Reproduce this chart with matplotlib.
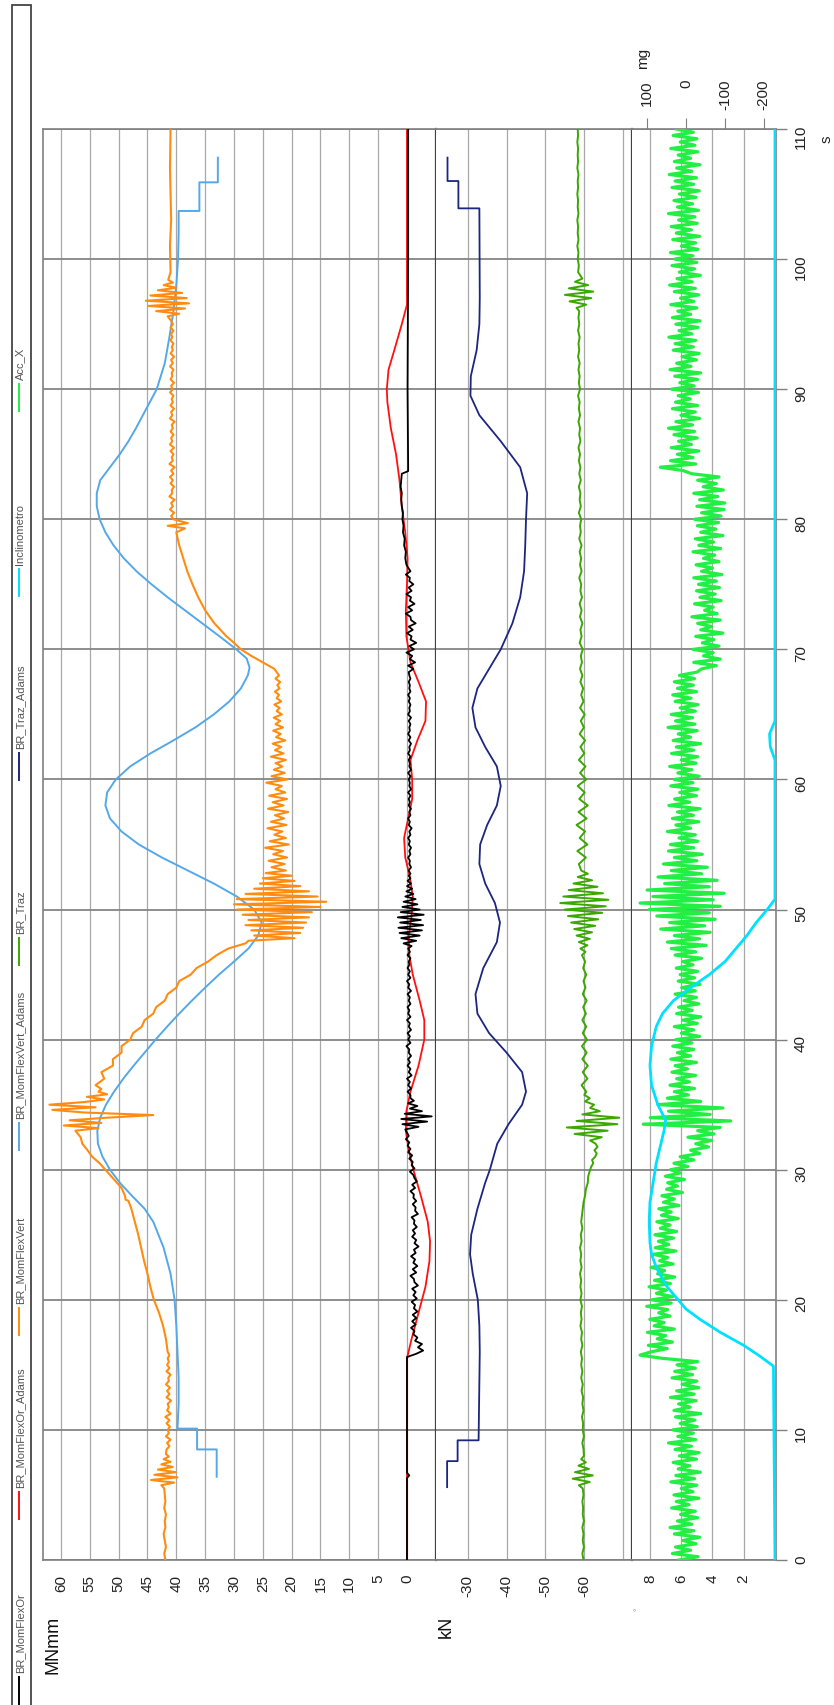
import numpy as np
import matplotlib
matplotlib.use("Agg")
import matplotlib.pyplot as plt
from matplotlib.lines import Line2D
from matplotlib.patches import Rectangle
from matplotlib.transforms import blended_transform_factory

plt.rcParams['font.family'] = ['Liberation Sans', 'DejaVu Sans']


def regular(t0, dt, vals):
    """Samples taken every dt seconds starting at t0."""
    return [t0 + dt * i for i in range(len(vals))], list(vals)


def pairs(ts, vs):
    return list(ts), list(vs)


def join(*pieces):
    t, v = [], []
    for pt, pv in pieces:
        t += pt
        v += pv
    return np.array(t), np.array(v)


# ---------------------------------------------------------------- data
time_ticks = list(range(0, 111, 10))

mom_ticks = list(range(0, 61, 5))
kn_ticks = [-30, -40, -50, -60, -70]
kn_labels = ['-30', '-40', '-50', '-60', '']
deg_ticks = [2, 4, 6, 8]
mg_ticks = [100, 0, -100, -200]

# BR_MomFlexVert (MNmm)
vert_t, vert_v = join(
    regular(0.0, 0.5, [41.9, 42.1, 41.8, 42.0, 42.2, 41.9, 42.0, 41.8, 42.1, 41.9, 42.0, 42.1]),
    regular(5.75, 0.2, [42.6, 40.4, 44.4, 39.8, 43.8, 40.1, 43.2, 40.6, 42.6, 41.0, 42.2, 41.3, 41.8]),
    regular(8.5, 0.25, [41.7, 41.2, 41.6, 41.0, 41.8, 41.3, 41.5, 41.1, 41.7, 41.2, 41.9, 41.0, 41.6,
                        41.3, 41.5, 40.9, 41.7, 41.2, 41.6, 41.1, 41.8, 41.3, 41.4, 41.0, 41.7, 41.2,
                        41.6, 41.3, 41.5, 41.2]),
    pairs([16, 17, 18, 19, 20, 21, 22, 23, 24, 25, 26, 27, 27.6, 27.7, 28, 28.6, 29, 29.5, 30, 30.5,
           31, 31.5, 32, 32.5, 33],
          [41.5, 41.8, 42.3, 43.0, 43.9, 44.5, 45.0, 45.6, 46.1, 46.6, 47.2, 47.8, 48.3, 48.8, 48.9,
           49.5, 50.3, 51.3, 52.3, 53.3, 54.6, 55.4, 56.3, 56.6, 57.5]),
    regular(33.2, 0.2, [53.5, 59.5, 53.0, 58.5, 52.0, 44.0, 56.0, 61.5, 54.0, 62.0, 56.0, 52.5,
                        55.5, 52.0, 53.5, 53.0]),
    pairs([36.5, 37, 37.5, 38, 38.5, 39, 39.5, 40, 40.5, 41, 41.5, 42, 42.5, 43, 43.5, 44, 44.5, 45,
           45.5, 46, 46.5, 47, 47.4],
          [54.0, 52.5, 53.0, 51.0, 51.0, 49.5, 49.5, 48.0, 47.5, 46.0, 45.5, 44.0, 43.5, 42.0, 41.5,
           40.0, 39.5, 37.5, 36.5, 34.5, 33.0, 31.0, 28.0]),
    regular(47.6, 0.2, [27.5, 19.5, 26.5, 18.5, 27.0, 18.0, 28.0, 17.5, 27.5, 17.0, 28.5, 16.5, 29.5,
                        15.0, 30.0, 14.0, 29.5, 15.5, 28.0, 17.0, 26.5, 18.5, 25.5, 19.5, 25.0, 20.0,
                        24.5, 21.0]),
    regular(53.25, 0.25, [23.5, 21.2, 24.0, 20.8, 23.2, 21.5, 24.6, 20.5, 23.8, 21.0, 23.0, 21.6, 24.2,
                          20.9, 23.6, 21.3, 22.9, 20.6, 24.1, 21.4, 23.3, 20.8, 23.9, 21.1, 22.8, 21.7,
                          24.4, 20.7, 23.5, 21.2, 23.1, 21.6, 22.8, 21.0, 23.6, 21.4, 22.9, 21.8, 23.3,
                          21.1, 22.7, 21.9, 23.2, 21.5, 22.8, 22.0, 23.1, 21.7, 22.6, 22.1, 23.0, 21.8,
                          22.6, 22.2, 22.9, 22.1, 22.5, 22.0, 22.8, 22.2, 22.6]),
    pairs([68.5, 69, 69.5, 70, 70.5, 71, 72, 73, 74, 75, 76, 77, 78, 79, 79.3, 79.5, 79.7, 80],
          [23.0, 25.0, 27.0, 28.8, 30.0, 31.3, 33.4, 35.0, 36.2, 37.2, 38.1, 38.8, 39.5, 40.0, 38.5,
           41.5, 38.0, 40.5]),
    regular(80.25, 0.25, [40.9, 40.4, 41.1, 40.6, 40.9, 40.3, 41.2, 40.7, 40.8, 40.4, 41.0, 40.6, 41.1,
                          40.5, 40.9, 40.3, 41.2, 40.6, 40.8, 40.5, 41.0, 40.4, 41.1, 40.7, 40.9, 40.5,
                          41.0, 40.6, 40.8, 40.3, 41.1, 40.7, 40.9, 40.4, 41.0, 40.6, 40.8, 40.5, 41.1,
                          40.6, 40.9, 40.4, 41.0, 40.7, 40.8, 40.5, 41.1, 40.6, 40.9, 40.4, 41.0, 40.6,
                          40.8, 40.5, 41.0, 40.7, 40.9, 40.5, 41.0, 40.6, 40.9]),
    regular(95.6, 0.2, [41.5, 39.5, 43.5, 38.5, 44.8, 37.8, 45.3, 38.2, 44.5, 39.0, 43.2, 40.0, 42.2,
                        40.6, 41.4]),
    pairs([99, 101, 103, 105, 107, 110], [41.0, 41.1, 40.9, 41.0, 41.1, 41.0]),
)

# BR_MomFlexVert_Adams (MNmm)
vert_adams_t = [6.4, 8.5, 8.5, 10.1, 10.1, 12, 14, 16, 18, 20, 22, 24, 26, 27, 28, 29, 30, 31, 32,
                33, 34, 35, 36, 37, 38, 39, 40, 41, 42, 43, 44, 45, 46, 47, 48, 49, 50, 51, 52, 53,
                54, 55, 56, 57, 58, 59, 60, 61, 62, 63, 64, 65, 66, 67, 68, 68.6, 69.3, 70, 71, 72,
                73, 74, 75, 76, 77, 78, 79, 80, 81, 82, 83, 84, 85, 86, 87, 88, 89, 90, 92, 94, 96,
                98, 100, 102, 103.7, 103.7, 105.9, 105.9, 107.8]
vert_adams_v = [33.0, 33.0, 36.4, 36.4, 39.8, 39.6, 39.6, 39.8, 40.0, 40.3, 41.0, 42.2, 44.0, 45.5,
                47.7, 49.8, 51.5, 52.8, 53.6, 53.7, 53.2, 52.2, 50.8, 49.2, 47.4, 45.5, 43.6, 41.6,
                39.5, 37.3, 35.0, 32.6, 30.0, 27.5, 25.8, 25.2, 26.5, 29.5, 33.5, 38.0, 42.5, 46.5,
                49.5, 51.5, 52.3, 52.0, 50.5, 48.0, 44.5, 40.5, 36.7, 33.5, 30.8, 28.8, 27.6, 27.3,
                27.8, 29.6, 32.5, 35.5, 38.5, 41.5, 44.3, 46.9, 49.1, 50.9, 52.3, 53.3, 53.8, 53.8,
                53.2, 51.5, 49.8, 48.3, 47.0, 45.8, 44.6, 43.4, 42.0, 41.2, 40.5, 40.0, 39.7, 39.6,
                39.6, 36.0, 36.0, 32.8, 32.8]

# BR_MomFlexOr (MNmm)
or_t, or_v = join(
    pairs([0, 6.3, 6.5, 6.7, 15.5], [0.0, 0.0, -0.4, 0.0, 0.0]),
    regular(15.6, 0.25, [0.0, -1.6, -2.8, -1.9, -2.6, -1.4, -1.8, -1.1, -1.3, -0.7, -1.5, -0.9, -1.6,
                         -1.0, -1.8, -1.2, -1.4, -0.8, -1.7, -1.1, -1.5, -0.9, -1.9, -1.3, -1.2, -0.6,
                         -1.6, -1.0, -1.8, -1.1, -1.4, -0.7, -1.5, -1.2, -2.0, -1.3, -1.6, -0.9, -1.4,
                         -1.0, -1.7, -1.2, -1.3, -0.8, -1.9, -1.4, -1.5, -1.0, -1.6, -1.1, -1.2, -0.6,
                         -1.4, -0.9, -1.7, -1.3, -1.1, -0.5, -1.3, -0.8, -1.0, -0.4, -0.9, -0.2, -0.6,
                         -0.1, -0.4, 0.2, -0.3]),
    regular(33.1, 0.2, [0.3, -2.0, 0.8, -3.5, 1.0, -4.3, 0.4, -2.6, -0.5, -1.8, -0.2, -1.2, -0.6]),
    regular(35.75, 0.25, [-0.6, -0.1, -0.7, -0.2, -0.5, 0.0, -0.8, -0.3, -0.6, -0.1, -0.5, -0.2, -0.7,
                          -0.3, -0.4, 0.1, -0.6, -0.2, -0.5, -0.1, -0.7, -0.3, -0.5, 0.0, -0.6, -0.2,
                          -0.4, -0.1, -0.6, -0.3, -0.5, -0.1, -0.7, -0.2, -0.4, 0.0, -0.6, -0.2, -0.5,
                          -0.1, -0.4, -0.3, -0.6, -0.1, -0.5, -0.2]),
    regular(47.2, 0.2, [-0.8, 0.6, -1.6, 1.0, -2.2, 1.3, -2.6, 1.5, -2.8, 1.2, -2.4, 1.6, -2.9, 1.1,
                        -2.2, 0.8, -1.8, 0.6, -1.5, 0.3, -1.1, 0.1, -0.9, 0.0, -0.7, -0.1, -0.6, -0.3]),
    regular(52.75, 0.25, [-0.6, -0.3, -0.7, -0.4, -0.5, -0.2, -0.6, -0.4, -0.7, -0.3, -0.5, -0.2, -0.6,
                          -0.4, -0.8, -0.3, -0.5, -0.2, -0.6, -0.4, -0.7, -0.3, -0.5, -0.3, -0.6, -0.2,
                          -0.7, -0.4, -0.5, -0.3, -0.6, -0.2, -0.7, -0.4, -0.5, -0.3, -0.6, -0.2, -0.5,
                          -0.4, -0.7, -0.3, -0.6, -0.2, -0.5, -0.4, -0.6, -0.3, -0.7, -0.2, -0.5, -0.4,
                          -0.6, -0.3, -0.5, -0.2, -0.6, -0.4, -0.5, -0.3, -0.6, -0.4]),
    regular(68.25, 0.25, [-0.3, -1.1, -0.2, -1.4, -0.5, -0.9, 0.1, -1.2, -0.4, -1.6, -0.6, -0.8, 0.0,
                          -1.0, -0.3, -1.5, -0.7, -0.6, 0.2, -0.9, -0.2, -1.3, -0.5, -0.7, 0.1, -0.8,
                          -0.3, -1.1, -0.4, -0.5, 0.2, -0.6]),
    regular(76.5, 0.5, [0.1, 0.3, 0.2, 0.5, 0.4, 0.7, 0.6, 0.8, 0.7, 0.9, 1.0, 0.9, 1.1, 1.0, 0.9]),
    pairs([83.7, 84.2, 90, 100, 110], [-0.2, -0.2, -0.1, -0.2, -0.2]),
)

# BR_MomFlexOr_Adams (MNmm)
or_adams_t = [0, 15.5, 17, 19, 21, 23, 24.5, 26, 28, 30, 31.5, 33, 34.5, 36, 38, 40, 41.5, 43, 45,
              46.5, 48, 49.5, 51, 52.5, 54, 55.5, 57, 58.5, 60, 61.5, 63, 64.5, 66, 67.5, 69, 71,
              73, 75, 77, 79, 81, 83, 85, 87, 89, 90, 91.5, 93, 95, 96.5, 110]
or_adams_v = [0.0, 0.0, -0.8, -2.0, -3.2, -3.9, -4.0, -3.6, -2.4, -1.1, -0.3, 0.2, 0.1, -0.6,
              -2.0, -3.0, -3.0, -2.2, -1.0, -0.4, -0.3, -0.8, -1.0, -0.5, 0.3, 0.5, -0.2, -0.9,
              -0.9, -0.6, -1.8, -3.2, -3.3, -2.0, -0.6, 0.1, 0.2, 0.0, -0.1, 0.3, 0.9, 1.3, 1.9,
              2.8, 3.4, 3.5, 3.2, 2.2, 0.9, 0.0, 0.0]

# BR_Traz (kN)
traz_t, traz_v = join(
    regular(0.0, 0.5, [-59.8, -59.5, -59.9, -59.6, -59.8, -59.5, -59.9, -59.6, -59.7, -59.5, -59.8,
                       -59.6]),
    regular(5.75, 0.25, [-58.6, -61.4, -57.0, -62.2, -57.6, -61.2, -58.5, -60.4, -59.2, -59.9]),
    regular(8.5, 0.5, [-59.8, -59.5, -59.9, -59.6, -59.7, -59.4, -59.8, -59.5, -59.7, -59.3, -59.6,
                       -59.2, -59.5, -59.2, -59.4, -59.1, -59.5, -59.2, -59.4, -59.0, -59.3, -59.1,
                       -59.4, -59.0, -59.3, -59.0, -59.2, -58.9, -59.3, -59.0, -59.2, -58.9, -59.3,
                       -59.1, -59.5, -59.2, -59.4, -59.6, -59.8, -60.2, -60.4, -60.9, -61.0, -61.5]),
    regular(30.25, 0.25, [-61.8, -62.3, -62.0, -62.8, -63.2, -62.6, -63.4, -62.9, -61.5, -64.5, -57.5,
                          -66.0, -55.5, -68.5, -58.0, -69.0, -59.5, -64.0, -61.5, -62.5, -60.2, -61.4,
                          -60.0]),
    regular(36.0, 0.5, [-60.5, -59.3, -60.8, -59.6, -60.9, -59.5, -60.6, -59.4, -60.7, -59.6, -60.5,
                        -59.5, -60.4, -59.7, -60.6, -59.6, -60.3, -59.8, -60.5, -59.7, -60.2]),
    regular(46.25, 0.25, [-59.8, -59.4, -60.3, -59.0, -60.8, -58.6, -61.4, -58.0, -62.0, -57.4, -62.8,
                          -56.6, -63.6, -55.8, -64.6, -55.0, -65.5, -53.8, -66.2, -54.6, -64.8, -56.0,
                          -63.4, -57.2, -62.0, -58.3, -60.9, -59.2]),
    regular(53.5, 0.5, [-58.6, -60.4, -58.2, -60.8, -58.8, -60.2, -58.0, -60.6, -58.5, -60.9, -58.7,
                        -60.1, -58.3, -60.5, -58.9, -60.3, -58.6, -60.0, -59.0, -60.2, -58.8, -59.9,
                        -59.1, -60.1, -58.9, -59.8, -59.2, -59.7]),
    regular(67.5, 0.5, [-59.0, -59.5, -58.9, -59.4, -59.1, -59.6, -58.8, -59.3, -59.0, -59.5, -58.9,
                        -59.3, -58.8, -59.4, -59.0, -59.2, -58.7, -59.3, -58.9, -59.2, -58.8, -59.3,
                        -58.7, -59.1, -58.9, -59.2, -58.6, -59.1, -58.8, -59.0, -58.6, -59.1, -58.7,
                        -59.0, -58.6, -58.9, -58.5, -59.0, -58.7, -58.9, -58.5, -58.9, -58.6, -58.8,
                        -58.4, -58.9, -58.6, -58.8, -58.5, -58.8, -58.4, -58.7, -58.5, -58.8, -58.4,
                        -58.7, -58.5, -58.7]),
    regular(96.25, 0.25, [-58.0, -60.5, -56.2, -61.8, -55.0, -62.3, -56.0, -61.0, -57.6, -59.5]),
    regular(99.0, 0.5, [-58.4, -58.6, -58.3, -58.5, -58.2, -58.5, -58.3, -58.4, -58.2, -58.5, -58.3,
                        -58.4, -58.2, -58.4, -58.3, -58.5, -58.2, -58.4, -58.3, -58.4, -58.2, -58.4,
                        -58.3]),
)

# BR_Traz_Adams (kN)
traz_adams_t = [5.6, 7.6, 7.6, 9.2, 9.2, 16, 18, 20, 22, 23.5, 25, 27, 29, 30, 32, 33.5, 35, 36,
                37.5, 39, 40.5, 42, 43.5, 45.5, 47.5, 49, 50.5, 52, 53.5, 55, 56.5, 58, 59.5, 61,
                62.5, 64, 65.5, 67, 68.5, 70, 72, 74, 76, 78, 80, 82, 84, 86, 88, 89.5, 91, 93, 95,
                97, 103.9, 103.9, 106, 106, 107.8]
traz_adams_v = [-24.7, -24.7, -27.4, -27.4, -32.8, -33.1, -33.0, -32.6, -31.3, -30.6, -30.9, -32.5,
                -34.5, -35.7, -37.6, -40.5, -44.0, -45.0, -44.0, -40.0, -35.5, -32.5, -32.0, -34.0,
                -37.5, -38.3, -37.0, -34.5, -33.0, -33.2, -35.0, -37.5, -38.5, -37.5, -34.5, -32.0,
                -31.2, -32.5, -35.5, -38.5, -41.5, -43.5, -44.5, -44.8, -45.0, -45.3, -43.5, -38.5,
                -33.0, -30.7, -30.8, -32.3, -33.0, -33.1, -33.0, -27.6, -27.6, -24.8, -24.8]

# Inclinometro (deg)
incl_t = [0, 14.9, 15.7, 16.5, 17.5, 18.5, 19.3, 20, 21, 21.6, 22.5, 23.5, 24.4, 26, 27.5, 29, 30.5,
          32, 33, 33.8, 35, 36.5, 38, 39.5, 41, 42, 43, 44, 45, 46, 47, 48, 49, 50, 50.8, 61.5, 62.5,
          63.5, 64.5, 110]
incl_v = [0.0, 0.1, 1.0, 2.0, 3.5, 4.8, 5.7, 6.2, 6.9, 7.2, 7.6, 7.9, 8.0, 8.05, 8.0, 7.8, 7.6, 7.3,
          7.1, 7.0, 7.5, 7.9, 8.0, 7.9, 7.6, 7.2, 6.5, 5.4, 4.2, 3.2, 2.5, 1.8, 1.2, 0.5, 0.0, 0.0,
          0.3, 0.35, 0.0, 0.0]

# Acc_X (mg), one sample every 0.25 s
acc_x = [
    18, -31, 35, -12, 27, -26, 8, -35, 30, -20, 41, -15, 22, -30, 14, -24, 37, -8, 25, -33,
    31, -18, 12, -28, 39, -22, 26, -37, 20, -10, 33, -27, 17, -34, 28, -14, 45, -25, 21, -19,
    34, -29, 15, -23, 27, -38, 31, -11, 19, -26, 40, -21, 24, -33, 10, -28, 36, -17, 29, -24,
    23, -30, 60, 118, 90, 48, 97, 35, 74, 52, 99, 30, 82, 56, 93, 41, 70, 47, 101, 38,
    88, 34, 76, 50, 95, 40, 81, 29, 73, 55, 90, 33, 68, 47, 84, 26, 79, 44, 71, 32,
    80, 24, 66, 41, 75, 20, 63, 38, 70, 18, 58, 30, 62, 9, 50, 22, 47, 4, 53, 15,
    40, -5, 31, -20, 15, -35, -12, -58, -25, -66, -5, -72, -30, -88, 110, -115, 92, -62, 45, -95,
    72, -38, 48, -6, 30, -22, 41, -9, 24, -25, 36, -4, 28, -27, 39, -12, 22, -20, 34, -15,
    26, -35, 12, -20, 30, -29, 8, -38, 24, -16, 19, -33, 5, -27, 28, -24, 11, -36, 20, -22,
    15, -30, 25, -18, 8, -40, 28, -25, 38, -52, 48, -35, 30, -62, 65, -48, 42, -75, 75, -60,
    95, -88, 118, -70, 85, -98, 100, -60, 55, -80, 72, -40, 38, -55, 58, -28, 30, -42, 45, -20,
    40, -30, 18, -24, 48, -12, 26, -33, 35, -19, 22, -36, 44, -10, 29, -27, 16, -31, 39, -18,
    30, -34, 21, -15, 42, -26, 12, -30, 37, -20, 25, -38, 33, -12, 20, -29, 46, -23, 27, -17,
    38, -24, 15, -31, 28, -13, 34, -27, 22, -19, 30, -22, 17, -28, -40, -78, -20, -88, -45, -70,
    -18, -85, -42, -72, -25, -95, -38, -66, -30, -88, -15, -80, -48, -70, -22, -90, -36, -75, -27, -86,
    -32, -78, -20, -92, -40, -68, -26, -85, -45, -74, -18, -89, -33, -71, -24, -95, -38, -77, -29, -84,
    -22, -90, -40, -98, -28, -100, -35, -82, -20, -96, -44, -78, -30, -85, -15, 8, 66, -25, 40, -18,
    22, -33, 38, -14, 19, -29, 31, -22, 45, -17, 26, -35, 13, -24, 35, -30, 27, -11, 20, -32,
    37, -21, 16, -30, 29, -38, 41, -13, 24, -27, 10, -34, 33, -19, 28, -25, 44, -15, 18, -31,
    26, -36, 35, -12, 21, -28, 39, -20, 14, -33, 30, -24, 42, -16, 23, -37, 17, -22, 36, -28,
    29, -18, 40, -31, 12, -25, 34, -35, 25, -14, 38, -29, 19, -23, 45, -32, 22, -17, 31, -26,
    17, -34, 36, -20, 28, -27, 43, -15, 24, -36, 30, -12, 20, -30, 39, -23, 15, -28, 33, -19,
    25,
]
acc_t, acc_v = join(regular(0.0, 0.25, acc_x))

legend_names = ['BR_MomFlexOr', 'BR_MomFlexOr_Adams', 'BR_MomFlexVert', 'BR_MomFlexVert_Adams',
                'BR_Traz', 'BR_Traz_Adams', 'Inclinometro', 'Acc_X']

# ---------------------------------------------------------------- styles
C_OR = '#000000'
C_OR_ADAMS = '#ff1010'
C_VERT = '#ff8c10'
C_VERT_ADAMS = '#55a8e8'
C_TRAZ = '#3aa800'
C_TRAZ_ADAMS = '#1c2580'
C_INCL = '#00e0ff'
C_ACC = '#22ee44'
legend_colors = [C_OR, C_OR_ADAMS, C_VERT, C_VERT_ADAMS, C_TRAZ, C_TRAZ_ADAMS, C_INCL, C_ACC]

GRID_V = '#a8a8a8'
GRID_T = '#858585'
SEP = '#404040'

W, H = 834, 1706
X_LEFT, X_SEP1, X_SEP2, X_RIGHT = 43, 436, 632, 776
Y_TOP, Y_BOT = 130, 1561

fig = plt.figure(figsize=(W / 100, H / 100), dpi=100)


def band(x0, x1):
    return [x0 / W, 1 - Y_BOT / H, (x1 - x0) / W, (Y_BOT - Y_TOP) / H]


ax1 = fig.add_axes(band(X_LEFT, X_SEP1))
ax2 = fig.add_axes(band(X_SEP1, X_SEP2))
ax3 = fig.add_axes(band(X_SEP2, X_RIGHT))

ax1.set_xlim(63.12, -5.03)
ax2.set_xlim(-21.84, -72.27)
ax3.set_xlim(9.15, -0.064)

for ax in (ax1, ax2, ax3):
    ax.set_ylim(0, 110)
    ax.set_yticks(time_ticks)
    ax.set_axisbelow(True)
    ax.grid(axis='y', color=GRID_T, lw=1.3)
    ax.grid(axis='x', color=GRID_V, lw=0.9)
    ax.tick_params(axis='x', length=0, pad=10, labelsize=11, labelrotation=90, colors='#222222')
    for s in ax.spines.values():
        s.set_color('#808080')
        s.set_linewidth(1.2)

ax1.tick_params(axis='y', left=False, labelleft=False)
ax2.tick_params(axis='y', left=False, labelleft=False)
ax1.spines['right'].set_color(SEP)
ax1.spines['right'].set_linewidth(1.6)
ax2.spines['left'].set_visible(False)
ax2.spines['right'].set_color(SEP)
ax2.spines['right'].set_linewidth(1.6)
ax3.spines['left'].set_visible(False)

ax1.set_xticks(mom_ticks)
ax1.set_xticklabels([str(v) for v in mom_ticks])
ax2.set_xticks(kn_ticks)
ax2.set_xticklabels(kn_labels)
ax3.set_xticks(deg_ticks)
ax3.set_xticklabels([str(v) for v in deg_ticks])

ax3.yaxis.tick_right()
ax3.tick_params(axis='y', length=8, width=1, color='#808080', direction='out', pad=5,
                labelsize=11, labelrotation=90, colors='#222222')
ax3.tick_params(axis='y', color='#808080')

# mg scale for the acceleration, ticks on top
ax3b = ax3.twiny()
ax3b.set_xlim(138.8, -231.4)
ax3b.set_ylim(0, 110)
ax3b.set_xticks(mg_ticks)
ax3b.tick_params(axis='x', top=True, length=8, direction='out', color='#808080', labeltop=False)
for s in ax3b.spines.values():
    s.set_visible(False)

# separate layer for the inclinometer so it sits above the acceleration band
ax3c = ax3.twiny()
ax3c.set_xlim(ax3.get_xlim())
ax3c.set_ylim(0, 110)
ax3c.xaxis.set_visible(False)
for s in ax3c.spines.values():
    s.set_visible(False)

# ---------------------------------------------------------------- series
ax1.plot(vert_adams_v, vert_adams_t, color=C_VERT_ADAMS, lw=1.4, zorder=3)
ax1.plot(vert_v, vert_t, color=C_VERT, lw=1.5, zorder=4)
ax1.plot(or_adams_v, or_adams_t, color=C_OR_ADAMS, lw=1.3, zorder=3)
ax1.plot(or_v, or_t, color=C_OR, lw=1.3, zorder=4)

ax2.plot(traz_adams_v, traz_adams_t, color=C_TRAZ_ADAMS, lw=1.3, zorder=3)
ax2.plot(traz_v, traz_t, color=C_TRAZ, lw=1.4, zorder=4)

ax3b.plot(acc_v, acc_t, color=C_ACC, lw=2.3, zorder=3)
ax3c.plot(incl_v, incl_t, color=C_INCL, lw=2.0, zorder=4)

# ---------------------------------------------------------------- labels
tr_top = blended_transform_factory(ax3b.transData, fig.transFigure)
for v in mg_ticks:
    ax3b.text(v, 1 - 80 / H, str(v), transform=tr_top, rotation=90, ha='center', va='top',
              fontsize=11, color='#222222')
fig.text(643 / W, 1 - 58 / H, 'mg', rotation=90, ha='center', va='center', fontsize=11,
         color='#222222')
fig.text(53 / W, 1 - 1616 / H, 'MNmm', rotation=90, ha='center', va='top', fontsize=13,
         color='#111111')
fig.text(446 / W, 1 - 1616 / H, 'kN', rotation=90, ha='center', va='top', fontsize=13,
         color='#111111')
fig.text(638 / W, 1 - 1609 / H, '°', rotation=90, ha='center', va='center', fontsize=6,
         color='#888888')
fig.text(827 / W, 1 - 139 / H, 's', rotation=90, ha='center', va='center', fontsize=11,
         color='#222222')

# ---------------------------------------------------------------- legend strip
fig.add_artist(Rectangle((11.7 / W, -0.01), (30.7 - 11.7) / W, 1 - 6 / H + 0.01,
                         transform=fig.transFigure, fill=False, edgecolor='#444444', lw=1.3))
LEG_STEP = 184.7
for k, (name, col) in enumerate(zip(legend_names, legend_colors)):
    y_low = 385 + LEG_STEP * (7 - k) + 27
    y_high = y_low - 27
    fig.add_artist(Line2D([18.6 / W, 18.6 / W], [1 - y_low / H, 1 - y_high / H],
                          transform=fig.transFigure, color=col, lw=1.4))
    fig.text(20.5 / W, 1 - (y_high - 5) / H, name, rotation=90, ha='center', va='bottom',
             fontsize=8, color='#555555')

fig.savefig('out.png', dpi=100)
